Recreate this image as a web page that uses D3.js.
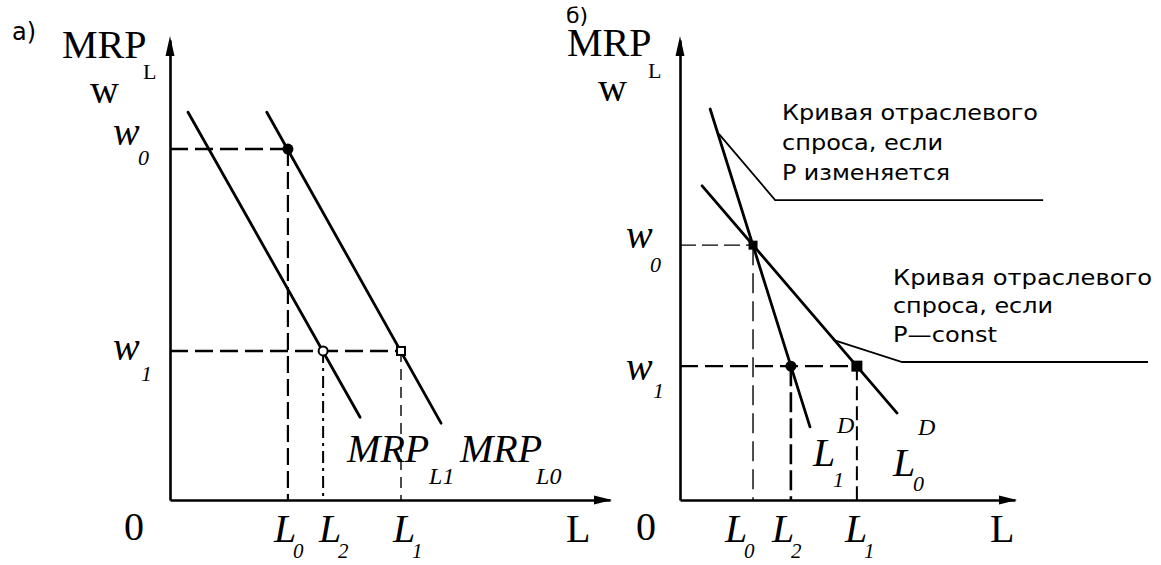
<!DOCTYPE html>
<html>
<head>
<meta charset="utf-8">
<script src="https://cdn.jsdelivr.net/npm/d3@7"></script>
<style>
  body { margin: 0; background: #fff; }
  text { fill: #000; }
</style>
</head>
<body>
<svg id="chart" width="1161" height="565"></svg>
<script>
// --- panel а): MRP curves shift (units: L 0..10, w 0..10)
const aCurveL1 = [[0.41, 8.43], [4.32, 1.80]];
const aCurveL0 = [[2.20, 8.43], [6.16, 1.67]];
const aPoints = [[2.68, 7.63], [3.48, 3.24], [5.25, 3.24]];   // (L0,w0) (L2,w1) (L1,w1)
const aLabourNames = ['0', '2', '1'];
const aWageNames = ['0', '1'];
const aWageLevels = [7.63, 3.24];

// --- panel б): industry demand curves
const bCurveL1D = [[0.90, 8.50], [3.88, 1.59]];
const bCurveL0D = [[0.66, 6.83], [6.48, 1.89]];
const bPoints = [[2.18, 5.54], [3.31, 2.91], [5.28, 2.91]];   // (L0,w0) (L2,w1) (L1,w1)
const bLabourNames = ['0', '2', '1'];
const bWageNames = ['0', '1'];
const bWageLevels = [5.54, 2.91];
const bLeader1 = [[1.16, 7.96], [2.84, 6.52], [10.84, 6.52]];
const bLeader2 = [[4.57, 3.48], [6.63, 3.00], [13.97, 3.00]];
const bNote1 = ['Кривая отраслевого', 'спроса, если', 'Р изменяется'];
const bNote2 = ['Кривая отраслевого', 'спроса, если', 'Р—const'];

const SERIF = '"Liberation Serif", "Times New Roman", serif';
const SANS = '"DejaVu Sans", sans-serif';

const svg = d3.select('#chart');

function makeScales (x0, x1) {
    return {
        x: d3.scaleLinear().domain([0, 10]).range([x0, x1]),
        y: d3.scaleLinear().domain([0, 10]).range([500, 40])
    };
}
const A = makeScales(170, 610);
const B = makeScales(680, 1015);

const lineOf = s => d3.line().x(d => s.x(d[0])).y(d => s.y(d[1]));

function txt (g, x, y, str, size, opts = {}) {
    return g.append('text')
        .attr('x', x).attr('y', y)
        .attr('font-family', opts.family || SERIF)
        .attr('font-size', size)
        .attr('font-style', opts.italic ? 'italic' : 'normal')
        .text(str);
}

function axes (g, s) {
    g.append('g')
        .attr('transform', `translate(0,${s.y(0)})`)
        .call(d3.axisBottom(s.x).tickValues([]).tickSizeOuter(0))
        .select('.domain').attr('stroke', '#000').attr('stroke-width', 2.6);
    g.append('g')
        .attr('transform', `translate(${s.x(0)},0)`)
        .call(d3.axisLeft(s.y).tickValues([]).tickSizeOuter(0))
        .select('.domain').attr('stroke', '#000').attr('stroke-width', 2.6);

    const xe = s.x(10), y0 = s.y(0), x0 = s.x(0), ye = s.y(10);
    g.append('path').attr('d', `M${xe + 2},${y0} l-18,-4.5 l0,9 z`).attr('fill', '#000');
    g.append('path').attr('d', `M${x0},${ye - 4} l-4.5,20 l9,0 z`).attr('fill', '#000');
}

function guides (g, s, pts, styles) {
    pts.forEach((p, i) => {
        const st = styles[i];
        if (st.h) {
            g.append('path')
                .attr('d', lineOf(s)([[0, p[1]], p]))
                .attr('fill', 'none').attr('stroke', '#000')
                .attr('stroke-width', st.h.w).attr('stroke-dasharray', st.h.dash);
        }
        g.append('path')
            .attr('d', lineOf(s)([p, [p[0], 0]]))
            .attr('fill', 'none').attr('stroke', '#000')
            .attr('stroke-width', st.v.w).attr('stroke-dasharray', st.v.dash);
    });
}

function curve (g, s, data, w) {
    g.append('path')
        .attr('d', lineOf(s)(data))
        .attr('fill', 'none').attr('stroke', '#000')
        .attr('stroke-width', w).attr('stroke-linecap', 'round');
}

function marker (g, s, p, kind, size) {
    const cx = s.x(p[0]), cy = s.y(p[1]);
    if (kind === 'dot') {
        g.append('circle').attr('cx', cx).attr('cy', cy).attr('r', size).attr('fill', '#000');
    } else if (kind === 'ring') {
        g.append('circle').attr('cx', cx).attr('cy', cy).attr('r', size)
            .attr('fill', '#fff').attr('stroke', '#000').attr('stroke-width', 2);
    } else if (kind === 'box') {
        g.append('rect').attr('x', cx - size).attr('y', cy - size)
            .attr('width', size * 2).attr('height', size * 2)
            .attr('fill', '#fff').attr('stroke', '#000').attr('stroke-width', 2);
    } else {
        g.append('rect').attr('x', cx - size).attr('y', cy - size)
            .attr('width', size * 2).attr('height', size * 2).attr('fill', '#000');
    }
}

// ================= panel а)
const ga = svg.append('g');
guides(ga, A, aPoints, [
    { h: { w: 2.6, dash: '18,7' }, v: { w: 2.2, dash: '17,6' } },
    { v: { w: 2, dash: '12,5,3,5' } },
    { h: { w: 2.6, dash: '18,7' }, v: { w: 1.4, dash: '11,7' } }
]);
axes(ga, A);
curve(ga, A, aCurveL1, 2.8);
curve(ga, A, aCurveL0, 2.8);
marker(ga, A, aPoints[0], 'dot', 5.5);
marker(ga, A, aPoints[1], 'ring', 4.5);
marker(ga, A, aPoints[2], 'box', 4);

txt(ga, 12, 40, 'а)', 24, { family: SANS });
txt(ga, 62, 58, 'MRP', 40);
txt(ga, 143, 79, 'L', 22);
txt(ga, 90, 103, 'w', 40);

// wage labels
[[-4, 16, 138], [9, 30, 141]].forEach((o, i) => {
    const yy = A.y(aWageLevels[i]);
    txt(ga, 113, yy + o[0], 'w', 40, { italic: true });
    txt(ga, o[2], yy + o[1], aWageNames[i], 22, { italic: true });
});

// labour labels
[-14, -4, -8].forEach((dx, i) => {
    const xx = A.x(aPoints[i][0]) + dx;
    txt(ga, xx, 542, 'L', 40, { italic: true });
    txt(ga, xx + 19, 558, aLabourNames[i], 21, { italic: true });
});
txt(ga, 124, 540, '0', 40);
txt(ga, 566, 542, 'L', 40);

// curve names
const e1 = aCurveL1[1], e0 = aCurveL0[1];
txt(ga, A.x(e1[0]) - 13, 462, 'MRP', 40, { italic: true });
txt(ga, A.x(e1[0]) + 69, 484, 'L1', 24, { italic: true });
txt(ga, A.x(e0[0]) + 19, 462, 'MRP', 40, { italic: true });
txt(ga, A.x(e0[0]) + 95, 484, 'L0', 24, { italic: true });

// ================= panel б)
const gb = svg.append('g');
guides(gb, B, bPoints, [
    { h: { w: 1.4, dash: '16,6' }, v: { w: 1.4, dash: '20,8' } },
    { v: { w: 2.6, dash: '20,6' } },
    { h: { w: 2.4, dash: '18,7' }, v: { w: 2, dash: '14,6' } }
]);
axes(gb, B);

[bLeader1, bLeader2].forEach(d => {
    gb.append('path').attr('d', lineOf(B)(d))
        .attr('fill', 'none').attr('stroke', '#000').attr('stroke-width', 1.8);
});

curve(gb, B, bCurveL1D, 2.8);
curve(gb, B, bCurveL0D, 2.8);
marker(gb, B, bPoints[0], 'sq', 4.5);
marker(gb, B, bPoints[1], 'dot', 5.5);
marker(gb, B, bPoints[2], 'sq', 5.5);

txt(gb, 566, 23, 'б)', 22, { family: SANS });
txt(gb, 567, 56, 'MRP', 40);
txt(gb, 648, 78, 'L', 22);
txt(gb, 598, 101, 'w', 40);

[[3, 27, 650], [14, 32, 653]].forEach((o, i) => {
    const yy = B.y(bWageLevels[i]);
    txt(gb, 626, yy + o[0], 'w', 40, { italic: true });
    txt(gb, o[2], yy + o[1], bWageNames[i], 22, { italic: true });
});

[-28, -19, -12].forEach((dx, i) => {
    const xx = B.x(bPoints[i][0]) + dx;
    txt(gb, xx, 542, 'L', 40, { italic: true });
    txt(gb, xx + 19, 558, bLabourNames[i], 21, { italic: true });
});
txt(gb, 636, 540, '0', 40);
txt(gb, 990, 542, 'L', 40);

// demand curve names
txt(gb, 813, 466, 'L', 40, { italic: true });
txt(gb, 833, 487, '1', 22, { italic: true });
txt(gb, 837, 433, 'D', 24, { italic: true });
txt(gb, 893, 476, 'L', 40, { italic: true });
txt(gb, 913, 491, '0', 22, { italic: true });
txt(gb, 918, 435, 'D', 24, { italic: true });

// notes
const noteWidths1 = [256, 161, 168];
const noteWidths2 = [259, 160, 104];
bNote1.forEach((s, i) => {
    txt(gb, 782, [120, 150, 180][i], s, 21, { family: SANS })
        .attr('textLength', noteWidths1[i]).attr('lengthAdjust', 'spacingAndGlyphs');
});
bNote2.forEach((s, i) => {
    txt(gb, 893, [285, 313, 342][i], s, 21, { family: SANS })
        .attr('textLength', noteWidths2[i]).attr('lengthAdjust', 'spacingAndGlyphs');
});
</script>
</body>
</html>
